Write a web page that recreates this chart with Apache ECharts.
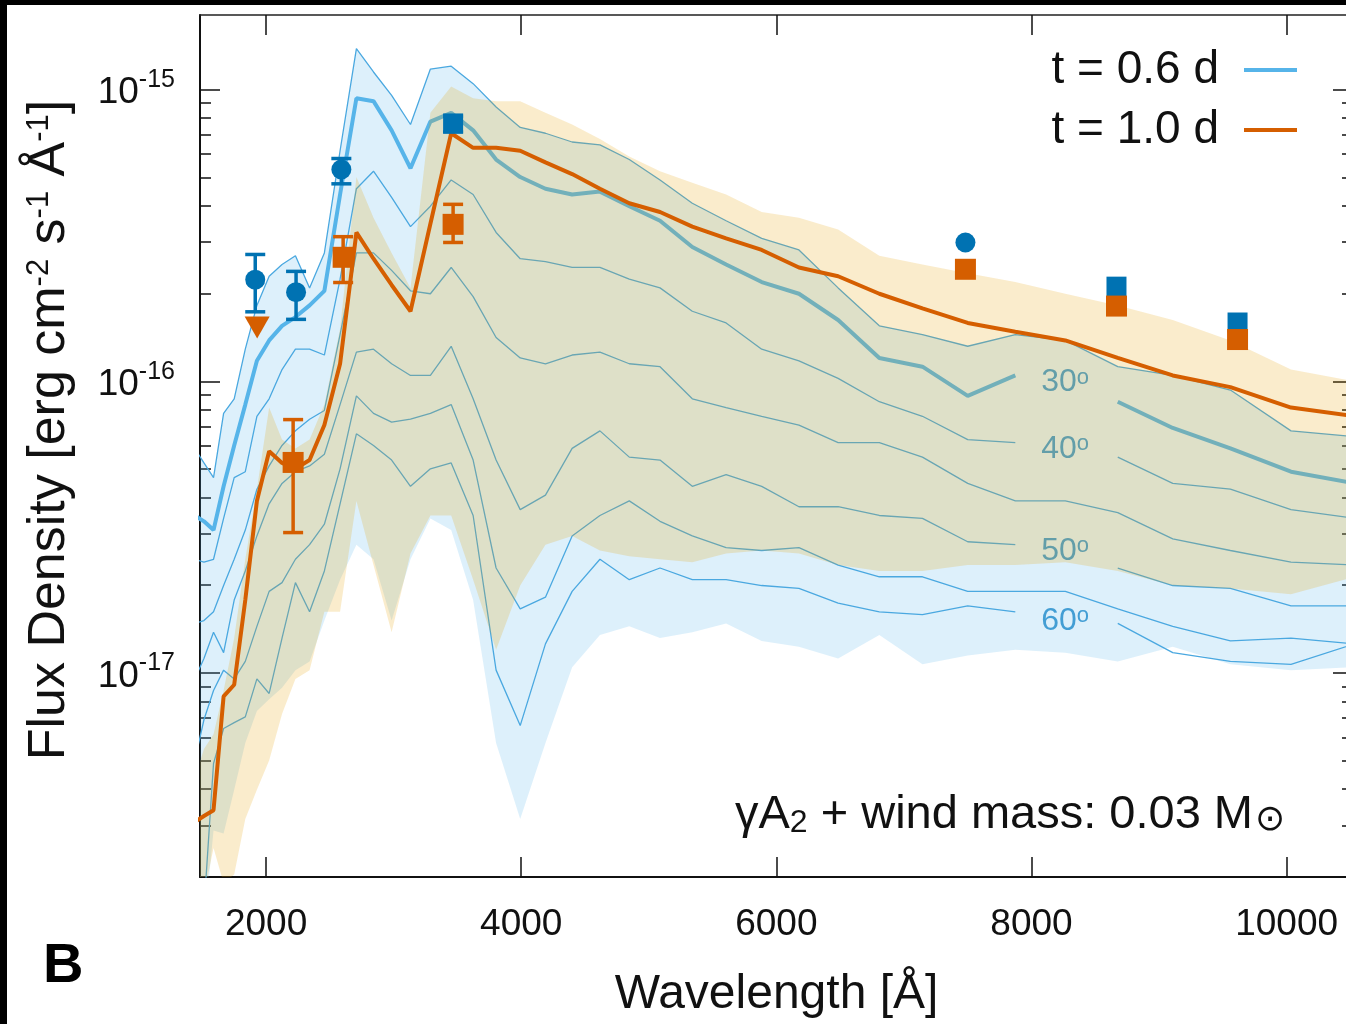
<!DOCTYPE html>
<html>
<head>
<meta charset="utf-8">
<script src="https://cdn.jsdelivr.net/npm/echarts@6/dist/echarts.min.js"></script>
<style>html,body{margin:0;padding:0;background:#fff;}#chart{width:1346px;height:1024px;}</style>
</head>
<body>
<div id="chart"></div>
<script>
// ---------------- data (wavelength in Angstrom, model flux as log10 [erg cm^-2 s^-1 A^-1]) ----------------
const wavelength = [1441, 1513, 1588, 1667, 1750, 1837, 1928, 2024, 2125, 2230, 2341, 2457, 2580, 2708, 2842, 2984, 3132, 3288, 3451, 3623, 3803, 3992, 4190, 4399, 4617, 4847, 5088, 5341, 5606, 5885, 6177, 6484, 6807, 7145, 7500, 7873, 8265, 8676, 9107, 9559, 10034, 10533];

// t = 0.6 d : upper envelope (thin line) and viewing-angle curves
const logFluxTop06 = [-16.23,-16.28,-16.33,-16.11,-16.06,-15.89,-15.74,-15.64,-15.60,-15.57,-15.68,-15.56,-15.21,-14.86,-14.94,-15.02,-15.12,-14.93,-14.92,-14.98,-15.06,-15.13,-15.15,-15.18,-15.19,-15.24,-15.31,-15.39,-15.45,-15.51,-15.55,-15.68,-15.81,-15.84,-15.88,-15.84,-15.86,-15.95,-15.98,-16.03,-16.17,-16.19];
const logFlux30deg06 = [-16.46,-16.48,-16.51,-16.36,-16.22,-16.08,-15.93,-15.86,-15.81,-15.78,-15.74,-15.69,-15.36,-15.03,-15.04,-15.14,-15.27,-15.11,-15.08,-15.14,-15.24,-15.30,-15.34,-15.36,-15.35,-15.40,-15.45,-15.54,-15.60,-15.66,-15.70,-15.79,-15.92,-15.95,-16.05,-15.98,null,-16.07,-16.16,-16.23,-16.31,-16.35];
const logFlux40deg06 = [-16.61,-16.62,-16.61,-16.47,-16.33,-16.31,-16.12,-16.06,-15.96,-15.89,-15.89,-15.91,-15.65,-15.34,-15.28,-15.37,-15.47,-15.40,-15.31,-15.36,-15.49,-15.58,-15.59,-15.61,-15.61,-15.65,-15.68,-15.76,-15.80,-15.89,-15.93,-15.99,-16.07,-16.12,-16.20,-16.21,null,-16.26,-16.35,-16.37,-16.44,-16.47];
const logFlux45deg06 = [-16.83,-16.82,-16.79,-16.70,-16.61,-16.51,-16.37,-16.29,-16.22,-16.17,-16.13,-16.10,-15.84,-15.56,-15.56,-15.62,-15.69,-15.70,-15.61,-15.71,-15.85,-15.92,-15.94,-15.91,-15.90,-15.94,-15.95,-16.06,-16.09,-16.12,-16.15,-16.21,-16.21,-16.26,-16.35,-16.41,-16.41,-16.45,-16.54,-16.58,-16.62,-16.63];
const logFlux50deg06 = [-17.02,-16.95,-16.86,-16.93,-16.75,-16.65,-16.53,-16.42,-16.35,-16.31,-16.29,-16.25,-16.08,-15.90,-15.89,-15.94,-15.98,-15.98,-15.88,-16.06,-16.27,-16.44,-16.39,-16.23,-16.17,-16.26,-16.27,-16.36,-16.32,-16.36,-16.43,-16.43,-16.46,-16.47,-16.55,-16.56,null,-16.64,-16.70,-16.71,-16.77,-16.77];
const logFlux55deg06 = [-17.30,-17.16,-17.06,-16.99,-17.02,-16.96,-16.84,-16.72,-16.69,-16.61,-16.56,-16.49,-16.30,-16.05,-16.11,-16.14,-16.13,-16.11,-16.08,-16.27,-16.64,-16.78,-16.74,-16.53,-16.46,-16.41,-16.48,-16.53,-16.57,-16.58,-16.57,-16.63,-16.67,-16.67,-16.72,-16.72,-16.72,-16.78,-16.84,-16.89,-16.88,-16.90];
const logFlux60deg06 = [-17.98,-17.81,-17.31,-17.19,-17.17,-17.15,-17.02,-17.07,-16.88,-16.69,-16.79,-16.65,-16.42,-16.18,-16.22,-16.27,-16.36,-16.30,-16.28,-16.46,-16.99,-17.18,-16.90,-16.72,-16.61,-16.68,-16.64,-16.68,-16.68,-16.70,-16.71,-16.76,-16.79,-16.80,-16.77,-16.79,null,-16.83,-16.93,-16.96,-16.97,-16.90];
const logFluxLow06 = [-18.05,-17.88,-17.54,-17.55,-17.40,-17.24,-17.13,-17.09,-17.05,-16.99,-16.96,-16.82,-16.68,-16.56,-16.61,-16.82,-16.61,-16.47,-16.51,-16.75,-17.24,-17.50,-17.24,-16.98,-16.87,-16.84,-16.88,-16.86,-16.83,-16.89,-16.91,-16.95,-16.87,-16.97,-16.94,-16.92,-16.93,-16.96,-16.91,-16.97,-16.99,-16.98];

// t = 1.0 d : 30 deg curve and envelope
const logFlux30deg10 = [-17.51,-17.49,-17.47,-17.08,-17.04,-16.75,-16.41,-16.24,-16.28,-16.30,-16.27,-16.15,-15.94,-15.49,-15.58,-15.67,-15.76,-15.46,-15.15,-15.20,-15.20,-15.21,-15.25,-15.29,-15.34,-15.39,-15.42,-15.47,-15.51,-15.55,-15.61,-15.64,-15.70,-15.75,-15.80,-15.83,-15.86,-15.92,-15.98,-16.02,-16.09,-16.12];
const logFluxTop10 = [-17.36,-17.26,-17.21,-17.06,-16.88,-16.61,-16.37,-16.09,-16.20,-16.23,-16.20,-16.08,-15.82,-15.30,-15.44,-15.56,-15.68,-15.08,-14.99,-15.03,-15.04,-15.04,-15.08,-15.12,-15.17,-15.23,-15.28,-15.32,-15.36,-15.42,-15.44,-15.48,-15.57,-15.60,-15.63,-15.66,-15.70,-15.74,-15.79,-15.86,-15.96,-16.00];
const logFluxLow10 = [-17.78,-17.76,-17.60,-17.72,-17.69,-17.50,-17.40,-17.30,-17.14,-17.02,-16.99,-16.79,-16.79,-16.41,-16.63,-16.86,-16.59,-16.46,-16.46,-16.68,-16.92,-16.70,-16.56,-16.53,-16.58,-16.60,-16.61,-16.62,-16.59,-16.58,-16.59,-16.63,-16.65,-16.65,-16.63,-16.63,-16.62,-16.65,-16.70,-16.71,-16.73,-16.67];

// observations
const obsWave06 = [1915, 2235, 2590, 3466, 7482, 8666, 9615];
const obsFlux06 = [2.23e-16, 2.02e-16, 5.32e-16, 7.65e-16, 2.99e-16, 2.11e-16, 1.59e-16];
const obsLow06  = [1.73e-16, 1.63e-16, 4.75e-16, 7.15e-16, null, null, null];
const obsHigh06 = [2.72e-16, 2.38e-16, 5.80e-16, 8.10e-16, null, null, null];
const obsShape06 = ['circle', 'circle', 'circle', 'rect', 'circle', 'rect', 'rect'];

const obsWave10 = [1930, 2212, 2604, 3466, 7482, 8666, 9615];
const obsFlux10 = [1.53e-16, 5.27e-17, 2.66e-16, 3.45e-16, 2.42e-16, 1.81e-16, 1.39e-16];
const obsLow10  = [null, 3.03e-17, 2.18e-16, 2.99e-16, null, null, null];
const obsHigh10 = [null, 7.39e-17, 3.13e-16, 4.04e-16, null, null, null];
const obsShape10 = ['triangle', 'rect', 'rect', 'rect', 'rect', 'rect', 'rect'];

// viewing-angle labels
const angleNames = ['30', '40', '50', '60'];
const angleLabelWave = [8263, 8263, 8263, 8263];
const angleLabelFlux = [0.99e-16, 5.85e-17, 2.62e-17, 1.51e-17];

// axes
const xTicks = [2000, 4000, 6000, 8000, 10000];
const yMajor = [1e-17, 1e-16, 1e-15];
const yMinor = [2e-18,3e-18,4e-18,5e-18,6e-18,7e-18,8e-18,9e-18,
                2e-17,3e-17,4e-17,5e-17,6e-17,7e-17,8e-17,9e-17,
                2e-16,3e-16,4e-16,5e-16,6e-16,7e-16,8e-16,9e-16];
const xRange = [1482, 10520];
const yRange = [2e-18, 1.8e-15];

// ---------------- build ----------------
const FONT = "'Liberation Sans', Arial, Helvetica, sans-serif";
const BLUE = '#56b4e9', BLUE_DARK = '#0072b2', ORANGE = '#d55e00';
const ANGLE_COLOR = '#1d8acb';

const lin = v => (v == null ? null : Math.pow(10, v));
const lineData = arr => wavelength.map((w, i) => [w, arr[i] == null ? '-' : lin(arr[i])]);

function bandRender(upper, lower, fill) {
  return function (params, api) {
    const pts = [];
    for (let i = 0; i < wavelength.length; i++) pts.push(api.coord([wavelength[i], lin(upper[i])]));
    for (let i = wavelength.length - 1; i >= 0; i--) pts.push(api.coord([wavelength[i], lin(lower[i])]));
    const cs = params.coordSys;
    return {
      type: 'polygon',
      shape: { points: pts },
      style: { fill: fill },
      clipPath: { type: 'rect', shape: { x: cs.x, y: cs.y, width: cs.width, height: cs.height } }
    };
  };
}

function errRender(color, halfCap) {
  return function (params, api) {
    const x = api.value(0), lo = api.value(1), hi = api.value(2);
    const a = api.coord([x, hi]), b = api.coord([x, lo]);
    const st = { stroke: color, lineWidth: 3.5 };
    return {
      type: 'group',
      children: [
        { type: 'line', shape: { x1: a[0], y1: a[1], x2: b[0], y2: b[1] }, style: st },
        { type: 'line', shape: { x1: a[0] - halfCap, y1: a[1], x2: a[0] + halfCap, y2: a[1] }, style: st },
        { type: 'line', shape: { x1: b[0] - halfCap, y1: b[1], x2: b[0] + halfCap, y2: b[1] }, style: st }
      ]
    };
  };
}

const errData = (w, lo, hi) => w.map((x, i) => [x, lo[i], hi[i]]).filter(d => d[1] != null);

const thin = (name, arr) => ({
  name: name, type: 'line', data: lineData(arr), showSymbol: false, symbol: 'none',
  lineStyle: { color: '#4aa8e0', width: 1.3 }, z: 2, silent: true, connectNulls: false
});

const yLabelRich = {
  b: { fontSize: 37, fontFamily: FONT, color: '#111', lineHeight: 44, verticalAlign: 'bottom' },
  s: { fontSize: 25, fontFamily: FONT, color: '#111', lineHeight: 25, verticalAlign: 'top' }
};

const option = {
  animation: false,
  backgroundColor: '#ffffff',
  grid: { left: 200, top: 15, width: 1153, height: 862, containLabel: false, outerBoundsMode: 'none' },
  legend: {
    data: ['t = 0.6 d', 't = 1.0 d'],
    orient: 'vertical', right: 44, top: 42, align: 'right',
    icon: 'rect', itemWidth: 53, itemHeight: 4, itemGap: 14, selectedMode: false,
    textStyle: { fontSize: 46, fontFamily: FONT, color: '#111', padding: [0, 20, 0, 0], lineHeight: 46 }
  },
  xAxis: [
    {
      type: 'value', position: 'bottom', min: xRange[0], max: xRange[1],
      axisLine: { show: true, onZero: false, lineStyle: { color: '#111', width: 2 } },
      axisTick: { show: true, inside: true, length: 20, customValues: xTicks, lineStyle: { color: '#111', width: 1.5 } },
      axisLabel: { show: true, customValues: xTicks, fontSize: 37, fontFamily: FONT, color: '#111', margin: 29,
        formatter: v => String(Math.round(v)) },
      splitLine: { show: false },
      name: 'Wavelength [Å]', nameLocation: 'middle', nameGap: 94,
      nameTextStyle: { fontSize: 48, fontFamily: FONT, color: '#111' }
    },
    {
      type: 'value', position: 'top', min: xRange[0], max: xRange[1],
      axisLine: { show: true, onZero: false, lineStyle: { color: '#222', width: 1.5 } },
      axisTick: { show: true, inside: true, length: 20, customValues: xTicks, lineStyle: { color: '#111', width: 1.5 } },
      axisLabel: { show: false }, splitLine: { show: false }
    }
  ],
  yAxis: [
    {
      type: 'log', logBase: 10, position: 'left', min: yRange[0], max: yRange[1],
      axisLine: { show: true, onZero: false, lineStyle: { color: '#111', width: 2 } },
      axisTick: { show: true, inside: true, length: 20, customValues: yMajor, lineStyle: { color: '#111', width: 1.5 } },
      axisLabel: {
        show: true, customValues: yMajor, margin: 25, rich: yLabelRich,
        formatter: v => '{b|10}{s|' + Math.round(Math.log10(v)) + '}'
      },
      splitLine: { show: false }, minorTick: { show: false }
    },
    {
      type: 'log', logBase: 10, position: 'left', min: yRange[0], max: yRange[1],
      axisLine: { show: false },
      axisTick: { show: true, inside: true, length: 11, customValues: yMinor, lineStyle: { color: '#111', width: 1.5 } },
      axisLabel: { show: false }, splitLine: { show: false }
    },
    {
      type: 'log', logBase: 10, position: 'right', min: yRange[0], max: yRange[1],
      axisLine: { show: true, onZero: false, lineStyle: { color: '#111', width: 2 } },
      axisTick: { show: true, inside: true, length: 20, customValues: yMajor, lineStyle: { color: '#111', width: 1.5 } },
      axisLabel: { show: false }, splitLine: { show: false }
    },
    {
      type: 'log', logBase: 10, position: 'right', min: yRange[0], max: yRange[1],
      axisLine: { show: false },
      axisTick: { show: true, inside: true, length: 11, customValues: yMinor, lineStyle: { color: '#111', width: 1.5 } },
      axisLabel: { show: false }, splitLine: { show: false }
    }
  ],
  series: [
    { name: 'band 0.6 d', type: 'custom', z: 1, silent: true, data: [[6000, 1e-16]],
      renderItem: bandRender(logFluxTop06, logFluxLow06, 'rgba(86,180,233,0.2)') },
    thin('top 0.6 d', logFluxTop06),
    thin('40 deg', logFlux40deg06),
    thin('45 deg', logFlux45deg06),
    thin('50 deg', logFlux50deg06),
    thin('55 deg', logFlux55deg06),
    thin('60 deg', logFlux60deg06),
    { name: 't = 0.6 d', type: 'line', data: lineData(logFlux30deg06), showSymbol: false, symbol: 'none',
      color: BLUE, lineStyle: { color: BLUE, width: 4 }, z: 2, silent: true, connectNulls: false },
    { name: 'angles', type: 'scatter', z: 2, silent: true, symbol: 'circle', symbolSize: 2,
      itemStyle: { color: 'rgba(0,0,0,0)' },
      data: angleNames.map((n, i) => [angleLabelWave[i], angleLabelFlux[i], n]),
      label: { show: true, position: 'inside', formatter: p => '{n|' + p.value[2] + '}{d|o}',
        rich: { n: { fontSize: 32, fontFamily: FONT, color: ANGLE_COLOR, lineHeight: 32, verticalAlign: 'bottom' },
                d: { fontSize: 22, fontFamily: FONT, color: ANGLE_COLOR, lineHeight: 22, verticalAlign: 'top' } } } },
    { name: 'band 1.0 d', type: 'custom', z: 3, silent: true, data: [[6000, 1e-16]],
      renderItem: bandRender(logFluxTop10, logFluxLow10, 'rgba(230,159,0,0.2)') },
    { name: 't = 1.0 d', type: 'line', data: lineData(logFlux30deg10), showSymbol: false, symbol: 'none',
      color: ORANGE, lineStyle: { color: ORANGE, width: 4 }, z: 4, silent: true },
    { name: 'err 0.6 d', type: 'custom', z: 5, silent: true, encode: { x: 0, y: [1, 2] },
      data: errData(obsWave06, obsLow06, obsHigh06), renderItem: errRender(BLUE_DARK, 10) },
    { name: 'obs 0.6 d', type: 'scatter', z: 5, silent: true,
      data: obsWave06.map((w, i) => ({ value: [w, obsFlux06[i]], symbol: obsShape06[i] })),
      symbolSize: 20, itemStyle: { color: BLUE_DARK, opacity: 1 } },
    { name: 'err 1.0 d', type: 'custom', z: 6, silent: true, encode: { x: 0, y: [1, 2] },
      data: errData(obsWave10, obsLow10, obsHigh10), renderItem: errRender(ORANGE, 10) },
    { name: 'obs 1.0 d', type: 'scatter', z: 6, silent: true,
      data: obsWave10.map((w, i) => ({ value: [w, obsFlux10[i]], symbol: obsShape10[i],
        symbolRotate: obsShape10[i] === 'triangle' ? 180 : 0,
        symbolSize: obsShape10[i] === 'triangle' ? [25, 22] : 21 })),
      itemStyle: { color: ORANGE, opacity: 1 } }
  ],
  graphic: [
    { type: 'rect', left: 0, top: 0, z: 100, shape: { width: 1346, height: 5 }, style: { fill: '#000' } },
    { type: 'rect', left: 0, top: 0, z: 100, shape: { width: 7, height: 1024 }, style: { fill: '#000' } },
    { type: 'text', x: 50, y: 430, rotation: Math.PI / 2, z: 100,
      style: { text: 'Flux Density [erg cm{s|-2} s{s|-1} Å{s|-1}]', fontSize: 52, fontFamily: FONT, fill: '#111',
        lineHeight: 52, textAlign: 'center', textVerticalAlign: 'middle', align: 'center', verticalAlign: 'middle',
        rich: { s: { fontSize: 31, fontFamily: FONT, fill: '#111', lineHeight: 31, verticalAlign: 'top' } } } },
    { type: 'text', left: 735, top: 781, z: 100,
      style: { text: '{g|γA}{u|2}{g| + wind mass: 0.03 M}{o|⊙}',
        rich: { g: { fontSize: 47, fontFamily: FONT, fill: '#111', lineHeight: 47, verticalAlign: 'top' },
                u: { fontSize: 32, fontFamily: FONT, fill: '#111', lineHeight: 32, verticalAlign: 'bottom', padding: [26, 0, 0, 0] },
                o: { fontSize: 36, fontFamily: "'DejaVu Sans', sans-serif", fill: '#111', lineHeight: 36, verticalAlign: 'bottom', padding: [22, 0, 0, 2] } } } },
    { type: 'text', left: 43, top: 939, z: 100,
      style: { text: 'B', fontSize: 56, fontWeight: 'bold', fontFamily: FONT, fill: '#000' } }
  ]
};

const chart = echarts.init(document.getElementById('chart'), null, { renderer: 'canvas', width: 1346, height: 1024 });
chart.setOption(option);
</script>
</body>
</html>
